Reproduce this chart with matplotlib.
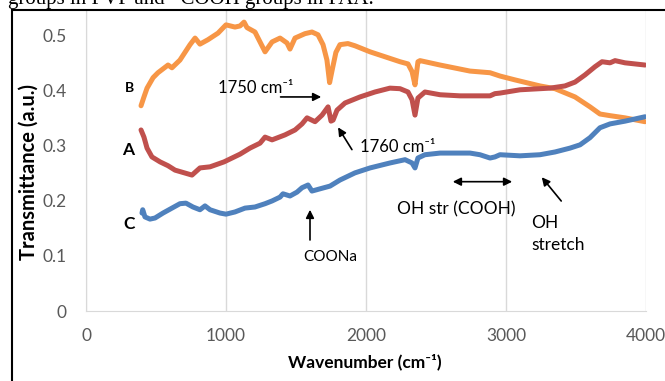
import matplotlib.pyplot as plt
from matplotlib.patches import Rectangle

plt.rcParams['font.family'] = ['Lato', 'DejaVu Sans']

# spectrum B (orange)
b_x = [393, 414, 436, 479, 514, 586, 614, 671, 743, 779, 814, 871, 943, 1000,
       1064, 1100, 1129, 1150, 1207, 1243, 1279, 1329, 1386, 1436, 1457, 1493,
       1564, 1614, 1657, 1693, 1721, 1740, 1760, 1785, 1814, 1871, 1921, 2029,
       2136, 2243, 2300, 2329, 2350, 2371, 2386, 2529, 2743, 2886, 2957, 3064,
       3243, 3350, 3493, 3600, 3671, 3743, 3850, 3993]
b_y = [0.373, 0.389, 0.405, 0.424, 0.433, 0.447, 0.442, 0.456, 0.484, 0.496,
       0.485, 0.493, 0.505, 0.520, 0.516, 0.518, 0.525, 0.515, 0.507, 0.489,
       0.471, 0.489, 0.496, 0.487, 0.476, 0.496, 0.504, 0.507, 0.502, 0.484,
       0.456, 0.415, 0.440, 0.470, 0.484, 0.486, 0.482, 0.471, 0.462, 0.453,
       0.449, 0.435, 0.411, 0.453, 0.455, 0.447, 0.436, 0.433, 0.427, 0.420,
       0.409, 0.404, 0.389, 0.371, 0.358, 0.355, 0.351, 0.344]

# spectrum A (red)
a_x = [393, 414, 436, 471, 529, 586, 636, 757, 814, 886, 986, 1100, 1171, 1243,
       1279, 1329, 1421, 1493, 1543, 1579, 1636, 1686, 1729, 1750, 1765, 1793,
       1850, 1957, 2064, 2171, 2243, 2300, 2329, 2350, 2371, 2421, 2529, 2671,
       2886, 2921, 2957, 3100, 3314, 3421, 3493, 3564, 3636, 3686, 3743, 3779,
       3850, 3993]
a_y = [0.329, 0.316, 0.296, 0.280, 0.271, 0.264, 0.256, 0.247, 0.260, 0.262,
       0.271, 0.285, 0.296, 0.305, 0.316, 0.311, 0.320, 0.329, 0.340, 0.351,
       0.344, 0.356, 0.371, 0.345, 0.347, 0.365, 0.378, 0.389, 0.398, 0.405,
       0.404, 0.398, 0.384, 0.356, 0.387, 0.398, 0.393, 0.391, 0.391, 0.395,
       0.396, 0.402, 0.405, 0.409, 0.416, 0.429, 0.444, 0.453, 0.451, 0.455,
       0.451, 0.447]

# spectrum C (blue)
c_x = [400, 405, 421, 457, 493, 550, 614, 671, 714, 764, 814, 850, 886, 957,
       1000, 1064, 1136, 1207, 1279, 1329, 1386, 1407, 1457, 1507, 1543, 1586,
       1614, 1643, 1671, 1743, 1814, 1921, 2029, 2171, 2279, 2329, 2350, 2371,
       2421, 2529, 2743, 2814, 2886, 2921, 2957, 3100, 3243, 3350, 3457, 3529,
       3600, 3671, 3743, 3850, 3957, 3993]
c_y = [0.178, 0.184, 0.171, 0.167, 0.169, 0.178, 0.187, 0.195, 0.196, 0.189,
       0.184, 0.191, 0.184, 0.178, 0.176, 0.180, 0.187, 0.189, 0.195, 0.200,
       0.207, 0.213, 0.209, 0.216, 0.224, 0.229, 0.218, 0.220, 0.222, 0.227,
       0.238, 0.251, 0.260, 0.269, 0.275, 0.269, 0.260, 0.278, 0.284, 0.287,
       0.287, 0.284, 0.278, 0.280, 0.284, 0.282, 0.284, 0.289, 0.296, 0.302,
       0.315, 0.333, 0.340, 0.345, 0.351, 0.353]

x_ticks = [0, 1000, 2000, 3000, 4000]
y_ticks = [0, 0.1, 0.2, 0.3, 0.4, 0.5]
y_ticklabels = ['0', '0.1', '0.2', '0.3', '0.4', '0.5']

W, H = 665, 381
fig = plt.figure(figsize=(W / 100, H / 100), dpi=100)
ax = fig.add_axes([86 / W, 1 - 311 / H, 560 / W, 301 / H])

ax.plot(b_x, b_y, color='#F79646', lw=3.6, solid_capstyle='round', solid_joinstyle='round')
ax.plot(a_x, a_y, color='#C0504D', lw=3.6, solid_capstyle='round', solid_joinstyle='round')
ax.plot(c_x, c_y, color='#4F81BD', lw=3.6, solid_capstyle='round', solid_joinstyle='round')

ax.set_xlim(0, 4000)
ax.set_ylim(0, 0.547)
ax.set_xticks(x_ticks)
ax.set_xticklabels([str(t) for t in x_ticks])
ax.set_yticks(y_ticks)
ax.set_yticklabels(y_ticklabels)
ax.tick_params(length=0, labelsize=12.5, colors='#595959')
ax.tick_params(axis='x', pad=12)
ax.tick_params(axis='y', pad=14)
ax.grid(axis='x', color='#D9D9D9', lw=1)
for s in ['top', 'right']:
    ax.spines[s].set_visible(False)
ax.spines['left'].set_color('#D9D9D9')
ax.spines['bottom'].set_color('#D9D9D9')

sup = '\u207b\u00b9'
fig.text(365 / W, 1 - 362 / H, 'Wavenumber (cm' + sup + ')', ha='center', va='center',
         fontsize=12.5, fontweight='bold')
fig.text(29 / W, 1 - 172 / H, 'Transmittance (a.u.)', ha='center', va='center',
         rotation=90, fontsize=14.5, fontweight='bold')

# series labels
ax.text(310, 0.405, 'B', fontsize=10, fontweight='bold', ha='center', va='center')
ax.text(300, 0.293, 'A', fontsize=12.5, fontweight='bold', ha='center', va='center')
ax.text(310, 0.159, 'C', fontsize=12.5, fontweight='bold', ha='center', va='center')

# peak annotations
ax.annotate('', xy=(1700, 0.389), xytext=(1370, 0.389),
            arrowprops=dict(arrowstyle='-|>', color='black', lw=1.2, mutation_scale=12))
ax.text(940, 0.405, '1750 cm' + sup, fontsize=12, ha='left', va='center')
ax.annotate('', xy=(1790, 0.338), xytext=(1910, 0.289),
            arrowprops=dict(arrowstyle='-|>', color='black', lw=1.2, mutation_scale=12))
ax.text(1960, 0.298, '1760 cm' + sup, fontsize=12, ha='left', va='center')
ax.annotate('', xy=(1600, 0.189), xytext=(1600, 0.124),
            arrowprops=dict(arrowstyle='-|>', color='black', lw=1.2, mutation_scale=12))
ax.text(1743, 0.098, 'COONa', fontsize=11, ha='center', va='center')
ax.annotate('', xy=(3064, 0.235), xytext=(2600, 0.235),
            arrowprops=dict(arrowstyle='<|-|>', color='black', lw=1.2, mutation_scale=12))
ax.text(2643, 0.185, 'OH str (COOH)', fontsize=12.5, ha='center', va='center')
ax.annotate('', xy=(3243, 0.247), xytext=(3407, 0.196),
            arrowprops=dict(arrowstyle='-|>', color='black', lw=1.2, mutation_scale=12))
ax.text(3180, 0.14, 'OH\nstretch', fontsize=12.5, ha='left', va='center', linespacing=1.45)

# cut-off caption line of the page and the chart border
fig.text(8 / W, 1 - 4 / H, 'groups in PVP and \u2013COOH groups in PAA.', family='Liberation Serif',
         fontsize=15, ha='left', va='baseline')
fig.patches.append(Rectangle((12 / W, -0.1), 1.2, 1 - 10 / H + 0.1, transform=fig.transFigure,
                             fill=False, edgecolor='black', lw=1.5))

fig.savefig('out.png', dpi=100)
